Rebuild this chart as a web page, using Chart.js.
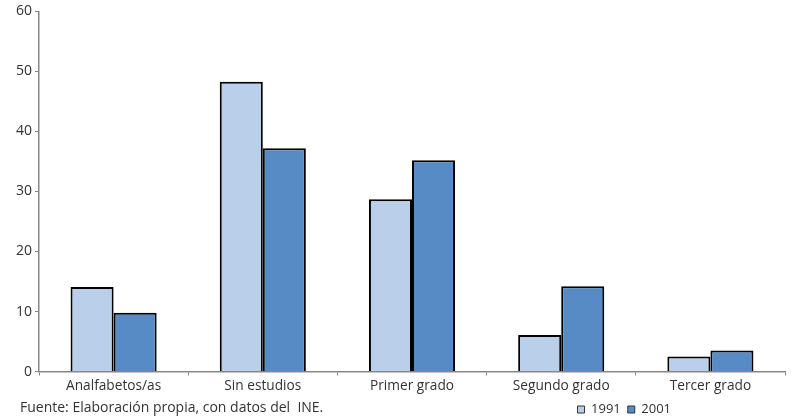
<!DOCTYPE html>
<html><head><meta charset="utf-8">
<script src="https://cdn.jsdelivr.net/npm/chart.js@4/dist/chart.umd.min.js"></script>
<style>
html,body{margin:0;padding:0;background:#fff;}
#wrap{position:relative;width:791px;height:419px;}
#src{position:absolute;left:20px;top:397px;font:14px "Open Sans",sans-serif;color:#333;white-space:pre;}
</style></head><body>
<div id="wrap"><canvas id="c" width="791" height="419"></canvas>
<div id="src">Fuente: Elaboración propia, con datos del  INE.</div></div>
<script>
const categories = ["Analfabetos/as","Sin estudios","Primer grado","Segundo grado","Tercer grado"];
const seriesNames = ["1991","2001"];
const values1991 = [14.1, 48.3, 28.7, 6.1, 2.5];
const values2001 = [9.8, 37.2, 35.2, 14.2, 3.5];
const yTicks = [0,10,20,30,40,50,60];

const font = {family:"'Open Sans', sans-serif", size:13.7};
const shiftLegend = {
  id:'shiftLegend',
  afterLayout(chart){ const l = chart.legend; if(l){ l.right -= 107; } }
};
new Chart(document.getElementById('c'), {
  type:'bar',
  data:{labels:categories, datasets:[
    {label:seriesNames[0], data:values1991, backgroundColor:'#B9CFEA', borderColor:'#000', borderWidth:2},
    {label:seriesNames[1], data:values2001, backgroundColor:'#568BC6', borderColor:'#000', borderWidth:2}
  ]},
  options:{
    responsive:false, animation:false,
    categoryPercentage:0.577, barPercentage:1,
    layout:{padding:{left:13,right:6,top:10,bottom:-7}},
    plugins:{
      tooltip:{enabled:false},
      legend:{position:'bottom', align:'end',
        labels:{boxWidth:7, boxHeight:7, padding:7, color:'#333', font:{family:"'Open Sans', sans-serif", size:13},
          generateLabels:(chart)=>Chart.defaults.plugins.legend.labels.generateLabels(chart).map(it=>Object.assign(it,{lineWidth:1, strokeStyle:'#333'}))}}
    },
    scales:{
      x:{grid:{offset:true, drawOnChartArea:false, drawTicks:true, tickLength:4, color:'#888'},
         border:{color:'#888', width:1.5},
         ticks:{color:'#333', font:font, padding:2}},
      y:{min:0, max:60, afterBuildTicks:(s)=>{s.ticks=yTicks.map(v=>({value:v}));},
         grid:{drawOnChartArea:false, drawTicks:true, tickLength:4, color:'#888'},
         border:{color:'#888', width:1.5},
         ticks:{color:'#333', font:{family:"'Open Sans', sans-serif", size:14}, padding:3}}
    }
  },
  plugins:[shiftLegend]
});
</script></body></html>
